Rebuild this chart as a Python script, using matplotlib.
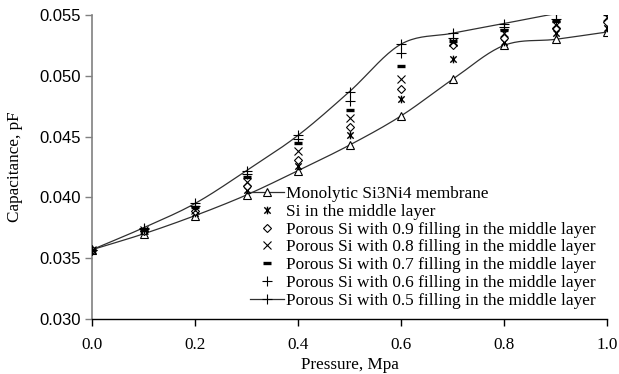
import numpy as np
import matplotlib
matplotlib.use("Agg")
import matplotlib.pyplot as plt
from matplotlib.path import Path
from matplotlib.lines import Line2D

pressure = [0.0, 0.1, 0.2, 0.3, 0.4, 0.5, 0.6, 0.7, 0.8, 0.9, 1.0]

monolytic = [0.0357, 0.0370, 0.0385, 0.0402, 0.0422, 0.0443, 0.0467, 0.0497, 0.0525, 0.0530, 0.0536]
si_mid    = [0.0357, 0.0372, 0.0387, 0.0406, 0.0426, 0.0451, 0.0481, 0.0514, 0.0528, 0.0535, 0.0539]
fill_09   = [0.0357, 0.0372, 0.0389, 0.0409, 0.0431, 0.0458, 0.0489, 0.0525, 0.0531, 0.0539, 0.0544]
fill_08   = [0.0357, 0.0373, 0.0390, 0.0413, 0.0438, 0.0465, 0.0497, 0.0528, 0.0535, 0.0542, 0.0548]
fill_07   = [0.0357, 0.0373, 0.0392, 0.0417, 0.0445, 0.0472, 0.0508, 0.0529, 0.0538, 0.0545, 0.0551]
fill_06   = [0.0357, 0.0374, 0.0393, 0.0419, 0.0448, 0.0479, 0.0519, 0.0531, 0.0540, 0.0547, 0.0553]
fill_05   = [0.0357, 0.0375, 0.0395, 0.0422, 0.0451, 0.0487, 0.0526, 0.0535, 0.0543, 0.0551, 0.0557]

labels = [
    "Monolytic Si3Ni4 membrane",
    "Si in the middle layer",
    "Porous Si with 0.9 filling in the middle layer",
    "Porous Si with 0.8 filling in the middle layer",
    "Porous Si with 0.7 filling in the middle layer",
    "Porous Si with 0.6 filling in the middle layer",
    "Porous Si with 0.5 filling in the middle layer",
]

serif = ["Liberation Serif", "DejaVu Serif"]
sans = ["Liberation Sans", "DejaVu Sans"]


def smooth(x, y, n=20):
    """Catmull-Rom curve through the data points (Excel-like smoothed line)."""
    x = np.asarray(x, float)
    y = np.asarray(y, float)
    px = np.concatenate([[2 * x[0] - x[1]], x, [2 * x[-1] - x[-2]]])
    py = np.concatenate([[2 * y[0] - y[1]], y, [2 * y[-1] - y[-2]]])
    xs, ys = [], []
    t = np.linspace(0, 1, n, endpoint=False)
    for i in range(1, len(px) - 2):
        p0, p1, p2, p3 = (np.array([px[j], py[j]]) for j in range(i - 1, i + 3))
        m1 = (p2 - p0) / 6.0
        m2 = (p3 - p1) / 6.0
        b0, b1, b2, b3 = p1, p1 + m1, p2 - m2, p2
        for tt in t:
            pt = ((1 - tt) ** 3) * b0 + 3 * ((1 - tt) ** 2) * tt * b1 + 3 * (1 - tt) * tt ** 2 * b2 + tt ** 3 * b3
            xs.append(pt[0]); ys.append(pt[1])
    xs.append(x[-1]); ys.append(y[-1])
    return np.array(xs), np.array(ys)


star = Path([(-1, -1), (1, 1), (-1, 1), (1, -1), (0, -1.2), (0, 1.2)],
            [Path.MOVETO, Path.LINETO, Path.MOVETO, Path.LINETO, Path.MOVETO, Path.LINETO])

fig = plt.figure(figsize=(6.19, 3.74), dpi=100)
ax = fig.add_axes([92 / 619, 1 - 319 / 374, 515 / 619, 304 / 374])

lc = "#303030"
mew = 0.8
styles = [
    dict(marker="^", ms=5.5, mfc="white", mec="black", mew=mew),
    dict(marker=star, ms=5.5, mfc="none", mec="black", mew=1.0),
    dict(marker="D", ms=4.0, mfc="white", mec="black", mew=mew),
    dict(marker="x", ms=5.5, mec="black", mew=mew),
    dict(marker="_", ms=6, mec="black", mew=2.4),
    dict(marker="+", ms=7, mec="black", mew=mew),
    dict(marker="+", ms=7, mec="black", mew=mew),
]
series = [monolytic, si_mid, fill_09, fill_08, fill_07, fill_06, fill_05]

# smoothed lines
for ys in (monolytic, fill_05):
    sx, sy = smooth(pressure, ys)
    ax.plot(sx, sy, color=lc, lw=0.9, zorder=2)

for ys, st in zip(series, styles):
    ax.plot(pressure, ys, ls="none", zorder=3, **st)

lh = []
for i, st in enumerate(styles):
    if i in (0, 6):
        lh.append(Line2D([], [], color=lc, lw=0.9, **st))
    else:
        lh.append(Line2D([], [], ls="none", **st))

ax.set_xlim(0.0, 1.0)
ax.set_ylim(0.030, 0.055)
ax.set_xticks([0.0, 0.2, 0.4, 0.6, 0.8, 1.0])
ax.set_yticks([0.030, 0.035, 0.040, 0.045, 0.050, 0.055])
ax.set_xticklabels([f"{v:.1f}" for v in ax.get_xticks()], fontfamily=serif, fontsize=12.3)
ax.set_yticklabels([f"{v:.3f}" for v in ax.get_yticks()], fontfamily=sans, fontsize=12)

for s in ["top", "right"]:
    ax.spines[s].set_visible(False)
ax.spines["left"].set_color("#808080")
ax.spines["left"].set_linewidth(1.2)
ax.spines["bottom"].set_color("black")
ax.spines["bottom"].set_linewidth(1.0)
ax.tick_params(axis="y", direction="out", length=5, color="#808080", width=1.0, pad=3)
ax.tick_params(axis="x", direction="out", length=5, color="black", width=1.0, pad=8)

ax.set_xlabel("Pressure, Mpa", fontfamily=serif, fontsize=12.3, labelpad=3)
ax.set_ylabel("Capacitance, pF", fontfamily=serif, fontsize=12.3, labelpad=12)

leg = ax.legend(lh, labels, loc="upper left", bbox_to_anchor=(250 / 619, 1 - 186 / 374),
                bbox_transform=fig.transFigure, frameon=False, prop={"family": serif, "size": 12.4},
                borderpad=0, borderaxespad=0, handlelength=2.0, handletextpad=0.1,
                labelspacing=0.1, markerscale=1.0)

fig.savefig("out.png", dpi=100)
